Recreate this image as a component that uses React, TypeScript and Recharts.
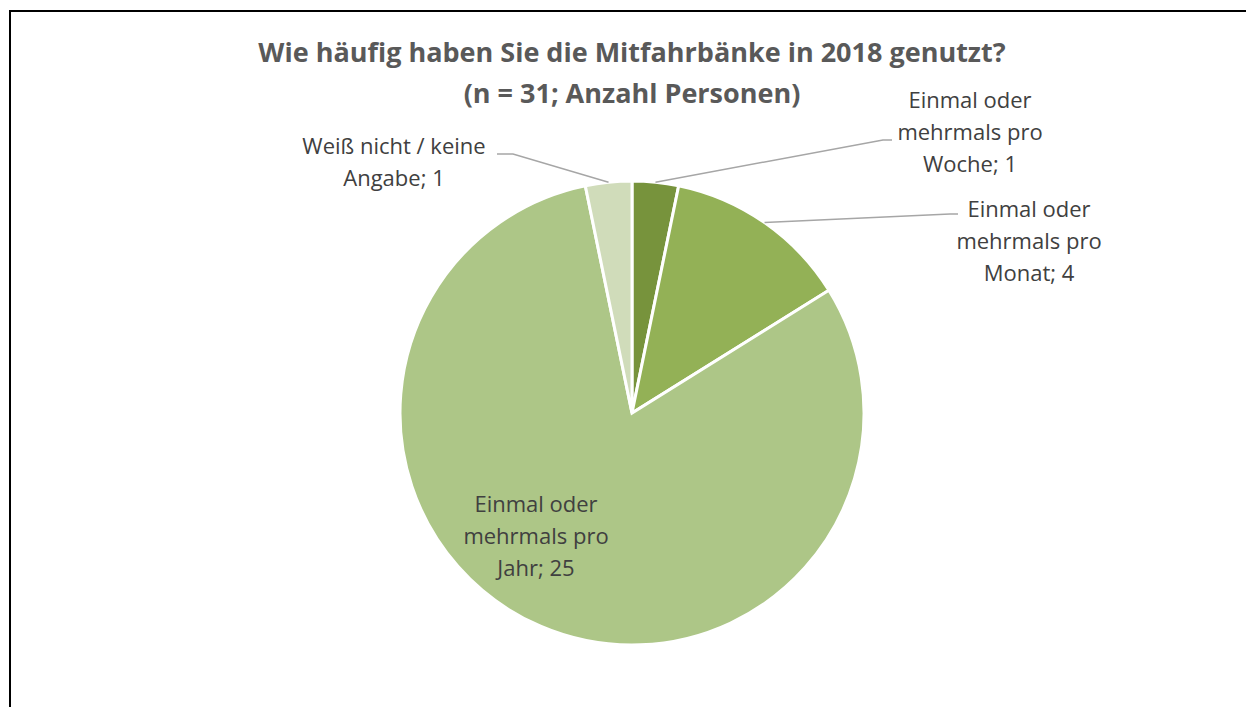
import React from 'react'
import { PieChart, Pie, Cell } from 'recharts'

// categories (manual line breaks like in the original Excel labels)
const categories = [
  'Einmal oder\nmehrmals pro\nWoche',
  'Einmal oder\nmehrmals pro\nMonat',
  'Einmal oder\nmehrmals pro\nJahr',
  'Weiß nicht / keine\nAngabe',
]
const values = [1, 4, 25, 1]
const colors = ['#77933c', '#93b156', '#adc687', '#d0dcba']

// label placement, offsets from the pie centre (text centre x, first baseline y, leader elbow/end)
const labelPos = [
  { tx: 338, ty: -305, line: [[251, -273], [260, -273]] },
  { tx: 397, ty: -196, line: [[318, -199], [326, -199]] },
  { tx: -96, ty: 99, line: null },
  { tx: -238, ty: -259, line: [[-119, -259], [-135, -259]] },
]

const data = categories.map((name, i) => ({ name, value: values[i] }))

const RAD = Math.PI / 180
const FONT = '"Open Sans", sans-serif'

function renderLabel(props: any) {
  const { cx, cy, midAngle, outerRadius, index, name, value } = props
  const pos = labelPos[index]
  const ax = cx + outerRadius * Math.cos(-midAngle * RAD)
  const ay = cy + outerRadius * Math.sin(-midAngle * RAD)
  const lines = `${name}; ${value}`.split('\n')
  return (
    <g key={`lbl-${index}`}>
      {pos.line && (
        <polyline
          points={`${ax},${ay} ${cx + pos.line[0][0]},${cy + pos.line[0][1]} ${cx + pos.line[1][0]},${cy + pos.line[1][1]}`}
          fill="none"
          stroke="#a6a6a6"
          strokeWidth={1.5}
        />
      )}
      <text x={cx + pos.tx} y={cy + pos.ty} textAnchor="middle" fill="#404040" fontSize={22} fontFamily={FONT}>
        {lines.map((l, j) => (
          <tspan key={j} x={cx + pos.tx} dy={j === 0 ? 0 : 32}>{l}</tspan>
        ))}
      </text>
    </g>
  )
}

export default function App() {
  return (
    <div style={{ position: 'relative', width: 1246, height: 699, overflow: 'hidden', background: '#fff' }}>
      <div style={{ position: 'absolute', left: 1, top: 2, width: 1400, height: 900, border: '2px solid #000', boxSizing: 'border-box' }} />
      <div
        style={{
          position: 'absolute', left: 0, top: 23, width: 1248, textAlign: 'center',
          fontFamily: FONT, fontWeight: 700, fontSize: 27, lineHeight: '41px', color: '#595959',
        }}
      >
        Wie häufig haben Sie die Mitfahrbänke in 2018 genutzt?<br />(n = 31; Anzahl Personen)
      </div>
      <div style={{ position: 'absolute', left: 0, top: 0 }}>
        <PieChart width={1246} height={699}>
          <Pie
            data={data}
            dataKey="value"
            nameKey="name"
            cx={619}
            cy={400}
            outerRadius={232}
            startAngle={90}
            endAngle={-270}
            stroke="#fff"
            strokeWidth={3}
            label={renderLabel}
            labelLine={false}
            isAnimationActive={false}
          >
            {data.map((d, i) => (
              <Cell key={d.name} fill={colors[i]} />
            ))}
          </Pie>
        </PieChart>
      </div>
    </div>
  )
}
